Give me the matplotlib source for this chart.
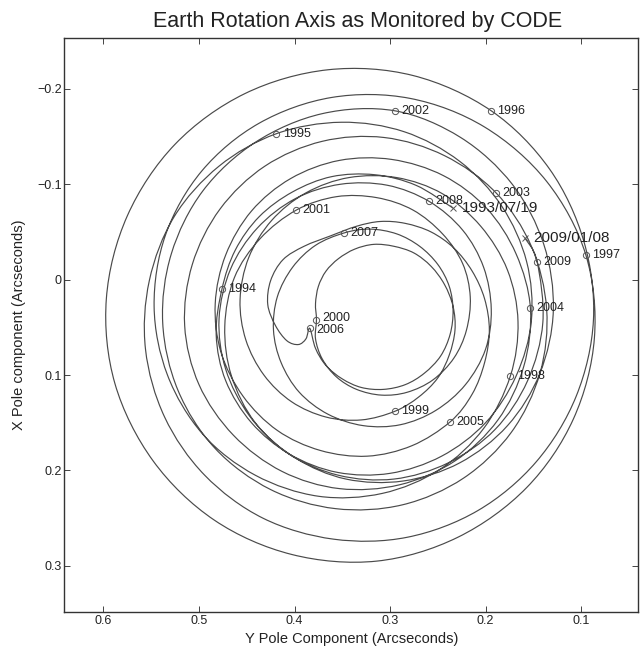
import matplotlib

matplotlib.use("Agg")
import matplotlib.pyplot as plt
from matplotlib.patches import PathPatch
from matplotlib.path import Path

plt.rcParams["font.family"] = ["Liberation Sans", "DejaVu Sans"]

# pole path, 1993/07/19 .. 2009/01/08 (arcseconds)
pole_y = [
    0.234, 0.273, 0.316, 0.361, 0.402, 0.437, 0.462,
    0.476, 0.482, 0.472, 0.445, 0.405, 0.355, 0.300, 0.246,
    0.200, 0.168, 0.152, 0.157, 0.183, 0.227, 0.285, 0.351,
    0.419, 0.479, 0.526, 0.552, 0.556, 0.536, 0.494, 0.433,
    0.359, 0.282, 0.208, 0.147, 0.105, 0.087, 0.097, 0.133,
    0.194, 0.276, 0.365, 0.452, 0.525, 0.575, 0.597, 0.588,
    0.548, 0.484, 0.403, 0.314, 0.229, 0.157, 0.108, 0.086,
    0.095, 0.136, 0.201, 0.279, 0.361, 0.437, 0.497, 0.535,
    0.547, 0.533, 0.496, 0.441, 0.375, 0.308, 0.248, 0.202,
    0.174, 0.166, 0.177, 0.205, 0.245, 0.293, 0.343, 0.388,
    0.424, 0.448, 0.457, 0.451, 0.432, 0.403, 0.367, 0.330,
    0.295, 0.270, 0.250, 0.238, 0.232, 0.234, 0.243, 0.257,
    0.275, 0.296, 0.317, 0.337, 0.354, 0.367, 0.375, 0.378,
    0.377, 0.378, 0.371, 0.356, 0.335, 0.309, 0.282, 0.255,
    0.233, 0.220, 0.216, 0.224, 0.245, 0.276, 0.314, 0.356,
    0.398, 0.436, 0.463, 0.473, 0.466, 0.441, 0.399, 0.346,
    0.286, 0.227, 0.177, 0.143, 0.129, 0.139, 0.172, 0.226,
    0.295, 0.371, 0.441, 0.496, 0.529, 0.538, 0.522, 0.483,
    0.425, 0.357, 0.287, 0.223, 0.173, 0.143, 0.136, 0.152,
    0.189, 0.243, 0.306, 0.371, 0.431, 0.478, 0.507, 0.515,
    0.500, 0.464, 0.413, 0.353, 0.290, 0.232, 0.187, 0.160,
    0.153, 0.168, 0.199, 0.244, 0.298, 0.353, 0.404, 0.445,
    0.472, 0.483, 0.477, 0.454, 0.418, 0.373, 0.324, 0.277,
    0.237, 0.214, 0.201, 0.196, 0.201, 0.214, 0.233, 0.257,
    0.284, 0.310, 0.335, 0.362, 0.390, 0.412, 0.425, 0.428,
    0.420, 0.408, 0.396, 0.388,
    0.384, 0.378, 0.367, 0.350, 0.330, 0.307, 0.284, 0.264,
    0.247, 0.237, 0.234, 0.238, 0.250, 0.269, 0.293, 0.321,
    0.348, 0.378, 0.402, 0.418, 0.422, 0.414, 0.395, 0.365,
    0.328, 0.289, 0.252, 0.221, 0.200, 0.194, 0.202, 0.224,
    0.259, 0.303, 0.352, 0.399, 0.439, 0.467, 0.479, 0.472,
    0.447, 0.407, 0.354, 0.296, 0.239, 0.190, 0.156, 0.140,
    0.146, 0.159,
]
pole_x = [
    -0.075, -0.099, -0.110, -0.108, -0.092, -0.066, -0.031,
    0.010, 0.058, 0.106, 0.150, 0.183, 0.202, 0.203, 0.185,
    0.150, 0.101, 0.043, -0.019, -0.077, -0.124, -0.155, -0.165,
    -0.153, -0.119, -0.066, 0.001, 0.073, 0.144, 0.205, 0.250,
    0.272, 0.270, 0.242, 0.191, 0.122, 0.042, -0.040, -0.116,
    -0.177, -0.214, -0.220, -0.195, -0.142, -0.067, 0.020, 0.109,
    0.190, 0.252, 0.288, 0.295, 0.270, 0.218, 0.146, 0.061,
    -0.026, -0.103, -0.160, -0.190, -0.191, -0.164, -0.114, -0.047,
    0.028, 0.100, 0.162, 0.205, 0.227, 0.224, 0.199, 0.156,
    0.101, 0.044, -0.010, -0.056, -0.090, -0.107, -0.107, -0.091,
    -0.062, -0.023, 0.021, 0.063, 0.100, 0.128, 0.144, 0.147,
    0.138, 0.123, 0.103, 0.079, 0.053, 0.028, 0.005, -0.014,
    -0.028, -0.035, -0.037, -0.032, -0.022, -0.009, 0.007, 0.025,
    0.042, 0.062, 0.083, 0.102, 0.115, 0.121, 0.118, 0.105,
    0.082, 0.053, 0.018, -0.017, -0.048, -0.073, -0.086, -0.087,
    -0.073, -0.043, -0.002, 0.049, 0.101, 0.150, 0.187, 0.209,
    0.211, 0.192, 0.153, 0.098, 0.032, -0.037, -0.100, -0.149,
    -0.177, -0.174, -0.144, -0.093, -0.027, 0.045, 0.116, 0.177,
    0.220, 0.240, 0.236, 0.208, 0.160, 0.098, 0.031, -0.035,
    -0.091, -0.130, -0.149, -0.145, -0.119, -0.074, -0.016, 0.048,
    0.110, 0.163, 0.201, 0.219, 0.215, 0.190, 0.147, 0.091,
    0.030, -0.027, -0.075, -0.109, -0.126, -0.125, -0.106, -0.072,
    -0.026, 0.025, 0.076, 0.122, 0.158, 0.179, 0.185, 0.174,
    0.149, 0.120, 0.087, 0.053, 0.020, -0.009, -0.033, -0.050,
    -0.059, -0.061, -0.056, -0.046, -0.035, -0.021, 0.001, 0.026,
    0.048, 0.064, 0.068, 0.062,
    0.051, 0.072, 0.090, 0.104, 0.113, 0.115, 0.110, 0.098,
    0.080, 0.057, 0.032, 0.007, -0.016, -0.035, -0.048, -0.053,
    -0.049, -0.036, -0.013, 0.018, 0.053, 0.087, 0.118, 0.141,
    0.153, 0.152, 0.137, 0.110, 0.073, 0.031, -0.013, -0.052,
    -0.082, -0.099, -0.100, -0.085, -0.054, -0.011, 0.041, 0.094,
    0.143, 0.182, 0.205, 0.209, 0.192, 0.157, 0.106, 0.045,
    -0.019, -0.044,
]

# 1 January of each year
year_labels = ["1994", "1995", "1996", "1997", "1998", "1999", "2000", "2001",
               "2002", "2003", "2004", "2005", "2006", "2007", "2008", "2009"]
year_y = [0.476, 0.419, 0.194, 0.095, 0.174, 0.295, 0.377, 0.398,
          0.295, 0.189, 0.153, 0.237, 0.384, 0.348, 0.259, 0.146]
year_x = [0.010, -0.153, -0.177, -0.026, 0.101, 0.138, 0.042, -0.073,
          -0.177, -0.091, 0.030, 0.149, 0.051, -0.049, -0.082, -0.019]

date_labels = ["1993/07/19", "2009/01/08"]
date_y = [0.234, 0.159]
date_x = [-0.075, -0.044]

x_ticks = [0.6, 0.5, 0.4, 0.3, 0.2, 0.1]
x_tick_labels = ["0.6", "0.5", "0.4", "0.3", "0.2", "0.1"]
y_ticks = [-0.2, -0.1, 0.0, 0.1, 0.2, 0.3]
y_tick_labels = ["\u22120.2", "\u22120.1", "0", "0.1", "0.2", "0.3"]

line_color = "#4a4a4a"
text_color = "#222222"


def smooth_path(xs, ys):
    # curve through every read point (Catmull-Rom drawn as cubic Bezier)
    pts = list(zip(xs, ys))
    verts = [pts[0]]
    codes = [Path.MOVETO]
    n = len(pts)
    for i in range(n - 1):
        p0 = pts[max(i - 1, 0)]
        p1 = pts[i]
        p2 = pts[i + 1]
        p3 = pts[min(i + 2, n - 1)]
        c1 = (p1[0] + (p2[0] - p0[0]) / 6, p1[1] + (p2[1] - p0[1]) / 6)
        c2 = (p2[0] - (p3[0] - p1[0]) / 6, p2[1] - (p3[1] - p1[1]) / 6)
        verts += [c1, c2, p2]
        codes += [Path.CURVE4] * 3
    return Path(verts, codes)


fig = plt.figure(figsize=(6.42, 6.49), dpi=100)
ax = fig.add_axes([0.1002, 0.0575, 0.8941, 0.8835])

ax.add_patch(PathPatch(smooth_path(pole_y, pole_x), fill=False,
                       edgecolor=line_color, linewidth=0.85))
ax.plot(year_y, year_x, "o", mfc="none", mec="#555555", ms=4.5, mew=0.7)
ax.plot(date_y, date_x, "x", color="#555555", ms=4, mew=0.7)

# 2000 and 2006 sit almost on top of each other
label_dy = {"2000": 1.5, "2006": -1.5}
for label, yy, xx in zip(year_labels, year_y, year_x):
    ax.annotate(label, (yy, xx), xytext=(4.5, label_dy.get(label, 0)),
                textcoords="offset points", ha="left", va="center",
                fontsize=9, color=text_color)
for label, yy, xx in zip(date_labels, date_y, date_x):
    ax.annotate(label, (yy, xx), xytext=(6, 0), textcoords="offset points",
                ha="left", va="center", fontsize=11, color=text_color)

ax.set_xlim(0.641, 0.040)
ax.set_ylim(0.348, -0.253)
ax.set_xticks(x_ticks)
ax.set_xticklabels(x_tick_labels)
ax.set_yticks(y_ticks)
ax.set_yticklabels(y_tick_labels)
ax.tick_params(direction="in", top=True, right=True, length=4.5, width=0.7,
               color="#444444", labelcolor=text_color, labelsize=9)
ax.tick_params(axis="x", pad=2.5)
ax.tick_params(axis="y", pad=2)
for spine in ax.spines.values():
    spine.set_linewidth(1.0)
    spine.set_color("#333333")

ax.set_xlabel("Y Pole Component (Arcseconds)", fontsize=10.5, color=text_color)
ax.xaxis.set_label_coords(0.5, -0.0548)
ax.xaxis.label.set_verticalalignment("baseline")
ax.set_ylabel("X Pole component (Arcseconds)", fontsize=10.5, color=text_color)
ax.yaxis.set_label_coords(-0.072, 0.5)
ax.yaxis.label.set_verticalalignment("baseline")

fig.text(0.5576, 0.9589, "Earth Rotation Axis as Monitored by CODE",
         ha="center", va="baseline", fontsize=15.5, color=text_color)

fig.savefig("out.png", dpi=100)
